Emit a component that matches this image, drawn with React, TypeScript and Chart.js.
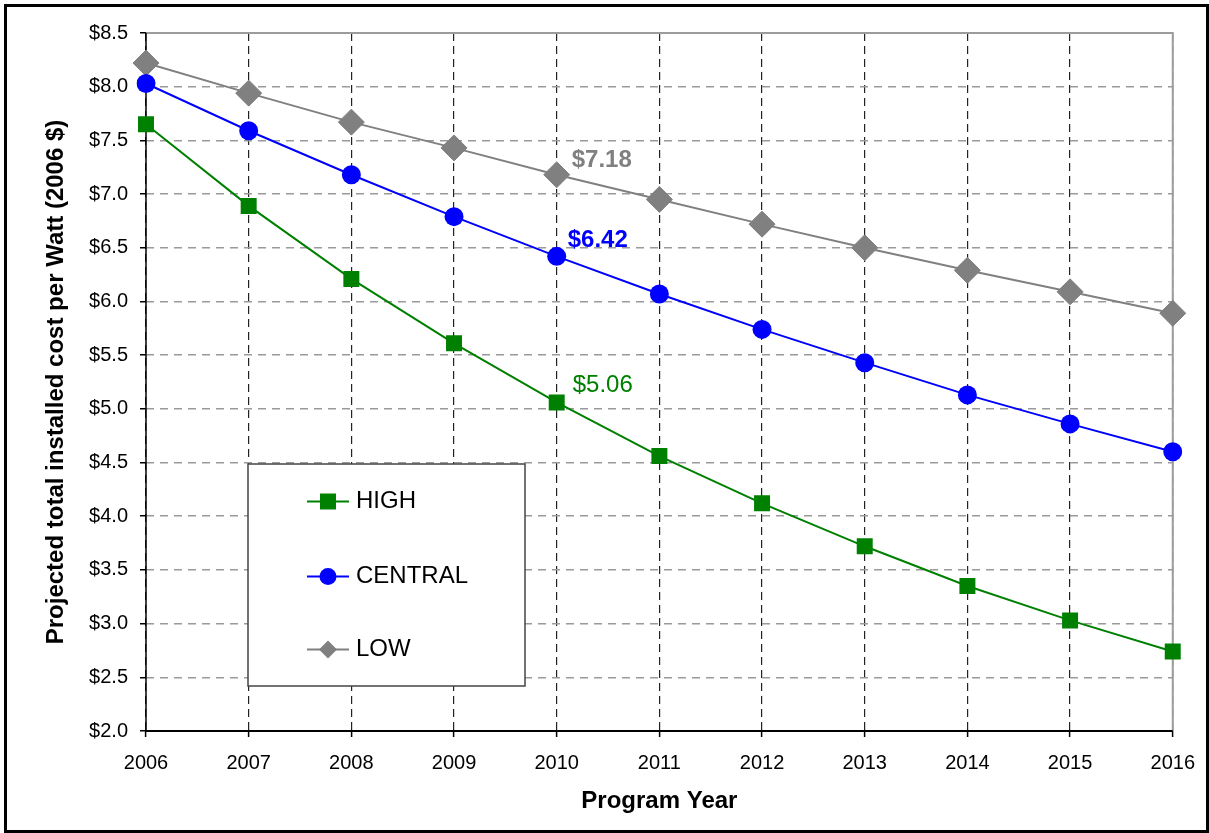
import React, { useEffect, useRef } from "react";
import { Chart, registerables } from "chart.js";

Chart.register(...registerables);

const YEARS = ["2006", "2007", "2008", "2009", "2010", "2011", "2012", "2013", "2014", "2015", "2016"];
const HIGH = [7.65, 6.89, 6.21, 5.61, 5.06, 4.56, 4.12, 3.72, 3.35, 3.03, 2.74];
const CENTRAL = [8.03, 7.59, 7.18, 6.79, 6.42, 6.07, 5.74, 5.43, 5.13, 4.86, 4.6];
const LOW = [8.22, 7.94, 7.67, 7.43, 7.18, 6.95, 6.72, 6.5, 6.29, 6.09, 5.89];
const SERIES_NAMES = ["HIGH", "CENTRAL", "LOW"];
const Y_MIN = 2.0;
const Y_MAX = 8.5;
const Y_STEP = 0.5;
const LABEL_INDEX = 4; // 2010 values are annotated

const FONT = "'Liberation Sans', Arial, Helvetica, sans-serif";
const GREEN = "#008000";
const BLUE = "#0000FF";
const GRAY = "#808080";

const W = 1209;
const H = 833;
const PLOT = { left: 146, top: 33, right: 1174, bottom: 731 };

function drawMarker(ctx: CanvasRenderingContext2D, style: string, x: number, y: number, r: number, color: string) {
  ctx.fillStyle = color;
  ctx.beginPath();
  if (style === "rect") {
    ctx.rect(x - r, y - r, 2 * r, 2 * r);
  } else if (style === "circle") {
    ctx.arc(x, y, r, 0, Math.PI * 2);
  } else {
    ctx.moveTo(x - r, y);
    ctx.lineTo(x, y - r);
    ctx.lineTo(x + r, y);
    ctx.lineTo(x, y + r);
    ctx.closePath();
  }
  ctx.fill();
}

const decorPlugin = {
  id: "decor",
  beforeDatasetsDraw(chart: any) {
    const { ctx, chartArea } = chart;
    const { left, right, top, bottom } = chartArea;
    ctx.save();
    ctx.setLineDash([]);
    // gray top & right plot border
    ctx.strokeStyle = "#9c9c9c";
    ctx.lineWidth = 2;
    ctx.beginPath();
    ctx.moveTo(left, top);
    ctx.lineTo(right, top);
    ctx.lineTo(right, bottom);
    ctx.stroke();
    // black axes
    ctx.strokeStyle = "#000";
    ctx.lineWidth = 1.5;
    ctx.beginPath();
    ctx.moveTo(left, top);
    ctx.lineTo(left, bottom);
    ctx.stroke();
    ctx.lineWidth = 2;
    ctx.beginPath();
    ctx.moveTo(left - 1, bottom);
    ctx.lineTo(right, bottom);
    ctx.stroke();
    ctx.restore();
  },
  afterDraw(chart: any) {
    const { ctx } = chart;
    ctx.save();
    ctx.setLineDash([]);

    // value annotations for 2010
    const annos = [
      { ds: 2, color: GRAY, weight: "bold", dx: 15, dy: -14 },
      { ds: 1, color: BLUE, weight: "bold", dx: 11, dy: -16 },
      { ds: 0, color: GREEN, weight: "normal", dx: 16, dy: -17 },
    ];
    annos.forEach((a) => {
      const pt = chart.getDatasetMeta(a.ds).data[LABEL_INDEX];
      const v = chart.data.datasets[a.ds].data[LABEL_INDEX] as number;
      ctx.font = `${a.weight} 24px ${FONT}`;
      ctx.fillStyle = a.color;
      ctx.textAlign = "left";
      ctx.textBaseline = "middle";
      ctx.fillText(`$${v.toFixed(2)}`, pt.x + a.dx, pt.y + a.dy);
    });

    // legend box
    const lx = 248, ly = 464, lw = 277, lh = 222;
    ctx.fillStyle = "#fff";
    ctx.fillRect(lx, ly, lw, lh);
    ctx.strokeStyle = "#444";
    ctx.lineWidth = 1.5;
    ctx.strokeRect(lx, ly, lw, lh);
    const items = [
      { name: SERIES_NAMES[0], color: GREEN, style: "rect", r: 8, y: 501.5 },
      { name: SERIES_NAMES[1], color: BLUE, style: "circle", r: 8.5, y: 576.5 },
      { name: SERIES_NAMES[2], color: GRAY, style: "rectRot", r: 9, y: 649.5 },
    ];
    items.forEach((it) => {
      ctx.strokeStyle = it.color;
      ctx.lineWidth = 2;
      ctx.beginPath();
      ctx.moveTo(307, it.y);
      ctx.lineTo(349, it.y);
      ctx.stroke();
      drawMarker(ctx, it.style, 328, it.y, it.r, it.color);
      ctx.fillStyle = "#000";
      ctx.font = `24px ${FONT}`;
      ctx.textAlign = "left";
      ctx.textBaseline = "middle";
      ctx.fillText(it.name, 356, it.y);
    });

    // outer frame
    ctx.strokeStyle = "#000";
    ctx.lineWidth = 3;
    ctx.strokeRect(5.5, 5.5, W - 7, H - 7);
    ctx.restore();
  },
};

export default function App() {
  const ref = useRef<HTMLCanvasElement | null>(null);

  useEffect(() => {
    if (!ref.current) return;
    document.body.style.margin = "0";
    const chart = new Chart(ref.current, {
      type: "line",
      data: {
        labels: YEARS,
        datasets: [
          {
            label: SERIES_NAMES[0],
            data: HIGH,
            borderColor: GREEN,
            backgroundColor: GREEN,
            borderWidth: 2,
            pointStyle: "rect",
            pointRadius: 11.3,
            pointBorderWidth: 0,
            pointBackgroundColor: GREEN,
            tension: 0,
          },
          {
            label: SERIES_NAMES[1],
            data: CENTRAL,
            borderColor: BLUE,
            backgroundColor: BLUE,
            borderWidth: 2,
            pointStyle: "circle",
            pointRadius: 9.5,
            pointBorderWidth: 0,
            pointBackgroundColor: BLUE,
            tension: 0,
          },
          {
            label: SERIES_NAMES[2],
            data: LOW,
            borderColor: GRAY,
            backgroundColor: GRAY,
            borderWidth: 2,
            pointStyle: "rectRot",
            pointRadius: 13,
            pointBorderWidth: 1,
            pointBorderColor: GRAY,
            pointBackgroundColor: GRAY,
            tension: 0,
          },
        ],
      },
      options: {
        responsive: false,
        animation: false,
        devicePixelRatio: 1,
        layout: { padding: { left: 0, top: PLOT.top, right: W - PLOT.right, bottom: 0 } },
        plugins: {
          legend: { display: false },
          tooltip: { enabled: false },
          title: { display: false },
        },
        scales: {
          x: {
            type: "category",
            offset: false,
            afterFit: (s: any) => {
              s.height = H - PLOT.bottom;
            },
            grid: {
              color: "#222",
              lineWidth: 1.2,
              drawTicks: true,
              tickLength: 6,
              tickColor: "#000",
              tickWidth: 1.5,
              tickBorderDash: [],
            } as any,
            border: { display: false, dash: [8, 5] } as any,
            ticks: {
              color: "#000",
              font: { family: FONT, size: 20 },
              padding: 14,
              autoSkip: false,
              maxRotation: 0,
              minRotation: 0,
            },
            title: {
              display: true,
              text: "Program Year",
              color: "#000",
              font: { family: FONT, size: 24, weight: "bold" },
              padding: { top: 0, bottom: 17 },
            },
          },
          y: {
            min: Y_MIN,
            max: Y_MAX,
            afterFit: (s: any) => {
              s.width = PLOT.left;
            },
            grid: {
              color: "#9a9a9a",
              lineWidth: 1.5,
              drawTicks: true,
              tickLength: 6,
              tickColor: "#000",
              tickWidth: 1.5,
              tickBorderDash: [],
            } as any,
            border: { display: false, dash: [8, 6] } as any,
            ticks: {
              stepSize: Y_STEP,
              color: "#000",
              font: { family: FONT, size: 20 },
              padding: 12,
              callback: (v: any) => `$${Number(v).toFixed(1)}`,
            },
            title: {
              display: true,
              text: "Projected total installed cost per Watt (2006 $)",
              color: "#000",
              font: { family: FONT, size: 24, weight: "bold" },
              padding: { top: 42, bottom: 0 },
            },
          },
        },
      },
      plugins: [decorPlugin],
    } as any);
    return () => chart.destroy();
  }, []);

  return (
    <div style={{ position: "absolute", left: 0, top: 0, width: W, height: H, background: "#fff" }}>
      <canvas ref={ref} width={W} height={H} style={{ display: "block" }} />
    </div>
  );
}
